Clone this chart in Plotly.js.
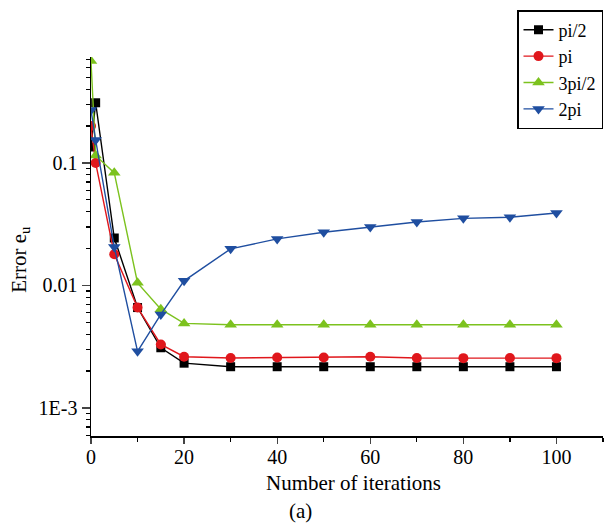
<!DOCTYPE html>
<html>
<head>
<meta charset="utf-8">
<script src="https://cdn.plot.ly/plotly-3.0.1.min.js"></script>
<style>html,body{margin:0;padding:0;background:#fff;}#chart{width:605px;height:525px;}</style>
</head>
<body>
<div id="chart"></div>
<script>
const iterations = [0, 1, 5, 10, 15, 20, 30, 40, 50, 60, 70, 80, 90, 100];
const seriesNames = ["pi/2", "pi", "3pi/2", "2pi"];
const errHalfPi = [0.135, 0.31, 0.0244, 0.0066, 0.0031, 0.00232, 0.00217, 0.00217, 0.00217, 0.00217, 0.00217, 0.00217, 0.00217, 0.00217];
const errPi = [0.2, 0.1, 0.018, 0.0066, 0.0033, 0.00262, 0.00256, 0.00258, 0.00258, 0.00262, 0.00256, 0.00255, 0.00256, 0.00255];
const errThreeHalfPi = [0.68, 0.115, 0.083, 0.0105, 0.0064, 0.0049, 0.00478, 0.00478, 0.00478, 0.00478, 0.00478, 0.00478, 0.00478, 0.00478];
const errTwoPi = [0.27, 0.154, 0.0206, 0.0029, 0.0058, 0.0109, 0.0199, 0.024, 0.0272, 0.03, 0.033, 0.0353, 0.036, 0.039];
const yTickVals = [0.001, 0.01, 0.1];
const yTickText = ["1E-3", "0.01", "0.1"];
const xTickVals = [0, 20, 40, 60, 80, 100];

const colors = ["#000000", "#e0171c", "#7cc21e", "#1f4ea0"];
const symbols = ["square", "circle", "triangle-up", "triangle-down"];
const sizes = [9, 10, 11, 11];
const allY = [errHalfPi, errPi, errThreeHalfPi, errTwoPi];

const traces = allY.map((ys, i) => ({
  x: iterations, y: ys, name: seriesNames[i], type: "scatter", mode: "lines+markers",
  line: {color: colors[i], width: 1.4},
  marker: {symbol: symbols[i], size: sizes[i], color: colors[i], line: {width: 0}}
}));

const fam = "Liberation Serif, Times New Roman, serif";
const f = (s) => ({family: fam, size: s, color: "#000"});
const layout = {
  width: 605, height: 525,
  margin: {l: 91, r: 2, t: 57, b: 89},
  paper_bgcolor: "#fff", plot_bgcolor: "#fff",
  font: f(20),
  showlegend: true,
  legend: {x: 1, xanchor: "right", y: 1.124, yanchor: "top", bordercolor: "#000", borderwidth: 1.5,
           bgcolor: "#fff", font: f(18), tracegroupgap: 0, itemwidth: 30},
  xaxis: {range: [0, 110], tickvals: xTickVals, ticks: "outside", ticklen: 6, tickwidth: 1.3,
          ticklabelstandoff: -4,
          showline: true, linecolor: "#000", linewidth: 1.5, showgrid: false, zeroline: false,
          minor: {dtick: 10, ticks: "outside", ticklen: 4, tickwidth: 1.2, tickcolor: "#000", showgrid: false},
          tickfont: f(20)},
  yaxis: {type: "log", range: [-3.229, -0.135], tickvals: yTickVals, ticktext: yTickText,
          ticks: "outside", ticklen: 8, tickwidth: 1.3,
          showline: true, linecolor: "#000", linewidth: 1.5, showgrid: false, zeroline: false,
          minor: {dtick: "D1", ticks: "outside", ticklen: 4, tickwidth: 1.2, tickcolor: "#000", showgrid: false},
          tickfont: f(20)},
  annotations: [
    {text: "Number of iterations", xref: "paper", yref: "paper", x: 0.513, y: -0.124, xanchor: "center", yanchor: "middle",
     showarrow: false, font: f(21)},
    {text: "(a)", xref: "paper", yref: "paper", x: 0.41, y: -0.198, xanchor: "center", yanchor: "middle",
     showarrow: false, font: f(21)},
    {text: "Error e<sub>u</sub>", xref: "paper", yref: "paper", x: -0.139, y: 0.467, xanchor: "center", yanchor: "middle",
     textangle: -90, showarrow: false, font: f(21)}
  ]
};
Plotly.newPlot("chart", traces, layout, {displayModeBar: false, staticPlot: true});
</script>
</body>
</html>
